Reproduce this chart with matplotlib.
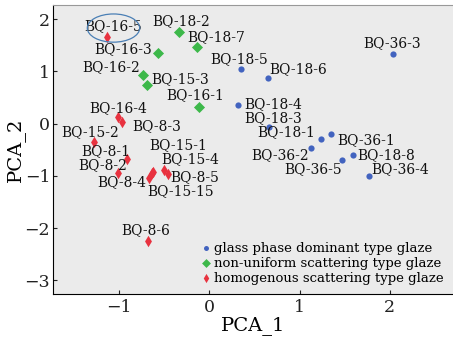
import numpy as np
import matplotlib
matplotlib.use("Agg")
import matplotlib.pyplot as plt
from matplotlib.patches import Ellipse

plt.rcParams['font.family'] = 'DejaVu Serif'

# ---- data -------------------------------------------------------------
glass_names = ['BQ-36-3', 'BQ-18-5', 'BQ-18-6', 'BQ-18-4', 'BQ-18-3', 'BQ-18-1',
               'BQ-36-1', 'BQ-36-2', 'BQ-18-8', 'BQ-36-5', 'BQ-36-4']
glass_x = [2.03, 0.35, 0.65, 0.32, 0.66, 1.24, 1.35, 1.13, 1.59, 1.47, 1.77]
glass_y = [1.34, 1.05, 0.88, 0.35, -0.07, -0.30, -0.19, -0.46, -0.60, -0.69, -1.00]

nonuni_names = ['BQ-18-2', 'BQ-18-7', 'BQ-16-3', 'BQ-16-2', 'BQ-15-3', 'BQ-16-1']
nonuni_x = [-0.34, -0.13, -0.57, -0.73, -0.69, -0.11]
nonuni_y = [1.76, 1.46, 1.36, 0.94, 0.74, 0.31]

homo_names = ['BQ-16-5', 'BQ-16-4', 'BQ-8-3', 'BQ-15-2', 'BQ-8-1', 'BQ-8-2',
              'BQ-8-4', 'BQ-15-1', 'BQ-15-4', 'BQ-8-5', 'BQ-15-15', 'BQ-8-6']
homo_x = [-1.13, -1.01, -0.97, -1.28, -0.91, -1.01, -0.67, -0.62, -0.50, -0.46, -0.63, -0.68]
homo_y = [1.66, 0.12, 0.04, -0.35, -0.67, -0.95, -1.05, -0.93, -0.88, -0.97, -0.95, -2.25]

legend_labels = ['glass phase dominant type glaze',
                 'non-uniform scattering type glaze',
                 'homogenous scattering type glaze']

# label placement: (ha, dx, dy) in pixels from the point
glass_lab = [('center', 0, 11), ('center', -2, 10), ('left', 1, 9), ('left', 6, 1),
             ('center', 4, 9), ('right', -6, 7), ('left', 6, -7), ('right', -2, -7),
             ('left', 5, 0), ('right', 0, -9), ('left', 2, 7)]
nonuni_lab = [('center', 3, 11), ('left', -10, 10), ('right', -6, 3), ('right', -3, 7),
              ('left', 4, 6), ('center', -4, 12)]
homo_lab = [('center', 6, 11), ('center', 0, 9), ('left', 11, -5), ('center', -3, 10),
            ('center', -21, 8), ('center', -15, 8), ('right', -2, -4), ('center', 25, 27),
            ('center', 26, 10), ('left', 3, -3), ('center', 28, -18), ('center', -2, 11)]

c_blue = '#4263bf'
c_green = '#3db84a'
c_red = '#e8323f'

fig = plt.figure(figsize=(4.53, 3.39), dpi=100)
ax = fig.add_axes([0.117, 0.133, 0.883, 0.852])
ax.set_facecolor('#ebebeb')

ax.scatter(glass_x, glass_y, s=20, marker='o', color=c_blue, linewidths=0,
           label=legend_labels[0], zorder=3)
ax.scatter(nonuni_x, nonuni_y, s=32, marker='D', color=c_green, linewidths=0,
           label=legend_labels[1], zorder=3)
ax.scatter(homo_x, homo_y, s=34, marker='d', color=c_red, linewidths=0,
           label=legend_labels[2], zorder=3)

for names, xs, ys, labs in [(glass_names, glass_x, glass_y, glass_lab),
                            (nonuni_names, nonuni_x, nonuni_y, nonuni_lab),
                            (homo_names, homo_x, homo_y, homo_lab)]:
    for n, xv, yv, (ha, dx, dy) in zip(names, xs, ys, labs):
        ax.annotate(n, (xv, yv), xytext=(dx, dy), textcoords='offset pixels',
                    ha=ha, va='center', fontsize=10, color='#111111')

# circle around BQ-16-5
ax.add_patch(Ellipse((-1.06, 1.83), 0.58, 0.54, fill=False,
                     edgecolor='#4a7fb5', linewidth=0.9, zorder=4))

ax.set_xlim(-1.73, 2.70)
ax.set_ylim(-3.26, 2.27)
ax.set_xticks([-1, 0, 1, 2])
ax.set_yticks([-3, -2, -1, 0, 1, 2])
ax.set_xticklabels(['\u22121', '0', '1', '2'])
ax.set_yticklabels(['\u22123', '\u22122', '\u22121', '0', '1', '2'])
ax.tick_params(direction='in', length=3, labelsize=12.5, colors='#222222')
ax.tick_params(axis='y', pad=2)
ax.spines['right'].set_visible(False)
ax.spines['top'].set_color('#999999')
ax.set_xlabel('PCA_1', fontsize=14, labelpad=0)
ax.set_ylabel('PCA_2', fontsize=14, labelpad=0)

leg = ax.legend(loc='lower right', bbox_to_anchor=(1.0, 0.0), frameon=False,
                fontsize=9.5, handlelength=0.6, handletextpad=0.3,
                labelspacing=0.15, borderaxespad=0.3, markerscale=0.8)

plt.savefig('out.png', dpi=100)
